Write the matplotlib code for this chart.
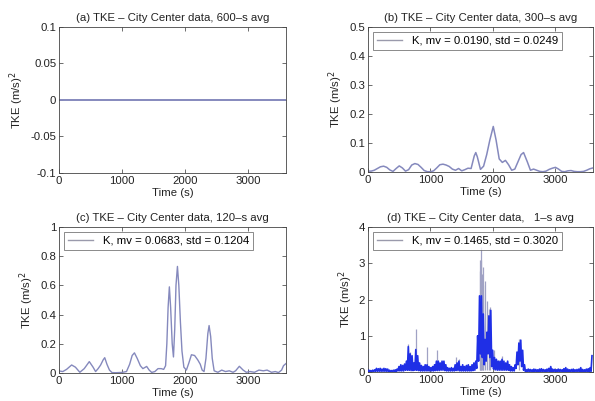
import numpy as np
import matplotlib
matplotlib.use("Agg")
import matplotlib.pyplot as plt

plt.rcParams['font.family'] = ['Liberation Sans', 'DejaVu Sans']

# ---------------- data ----------------
titles = ["(a) TKE \u2013 City Center data, 600\u2013s avg",
          "(b) TKE \u2013 City Center data, 300\u2013s avg",
          "(c) TKE \u2013 City Center data, 120\u2013s avg",
          "(d) TKE \u2013 City Center data,   1\u2013s avg"]
legend_labels = [None,
                 "K, mv = 0.0190, std = 0.0249",
                 "K, mv = 0.0683, std = 0.1204",
                 "K, mv = 0.1465, std = 0.3020"]

# (a) 600-s average
a_t = [0, 600, 1200, 1800, 2400, 3000, 3600]
a_v = [0, 0, 0, 0, 0, 0, 0]

# (b) 300-s average
b_t = [0, 50, 100, 150, 200, 250, 300, 350, 400, 450, 500, 550, 600, 650, 700, 750,
       800, 850, 900, 950, 1000, 1050, 1100, 1150, 1200, 1250, 1300, 1350, 1400,
       1450, 1500, 1550, 1600, 1650, 1700, 1725, 1750, 1800, 1850, 1900, 1950, 2005,
       2050, 2100, 2150, 2200, 2250, 2300, 2350, 2400, 2450, 2490, 2550, 2600, 2650,
       2700, 2750, 2800, 2850, 2900, 2950, 3000, 3050, 3100, 3150, 3200, 3250, 3300,
       3350, 3400, 3450, 3500, 3550, 3600]
b_v = [0.003, 0.003, 0.006, 0.012, 0.018, 0.020, 0.016, 0.007, 0.002, 0.012, 0.021,
       0.014, 0.003, 0.008, 0.024, 0.029, 0.026, 0.016, 0.005, 0.001, 0.001, 0.004,
       0.014, 0.025, 0.027, 0.024, 0.019, 0.010, 0.006, 0.012, 0.004, 0.008, 0.013,
       0.012, 0.055, 0.067, 0.052, 0.009, 0.020, 0.060, 0.110, 0.157, 0.110, 0.045,
       0.033, 0.040, 0.025, 0.006, 0.010, 0.035, 0.060, 0.067, 0.035, 0.006, 0.010,
       0.006, 0.002, 0.001, 0.003, 0.009, 0.013, 0.016, 0.010, 0.002, 0.001, 0.004,
       0.005, 0.002, 0.001, 0.001, 0.002, 0.006, 0.011, 0.014]

# (c) 120-s average
c_t = [0, 60, 120, 200, 260, 330, 400, 480, 540, 580, 620, 660, 700, 725, 760, 800,
       840, 900, 1000, 1070, 1120, 1160, 1196, 1240, 1290, 1330, 1390, 1430, 1470,
       1520, 1570, 1620, 1660, 1690, 1710, 1730, 1750, 1770, 1795, 1815, 1835, 1855,
       1878, 1900, 1925, 1950, 1980, 2020, 2060, 2100, 2150, 2200, 2240, 2270, 2300,
       2330, 2360, 2380, 2405, 2430, 2460, 2520, 2580, 2640, 2700, 2760, 2800, 2860,
       2920, 2970, 3030, 3100, 3170, 3240, 3300, 3370, 3430, 3480, 3530, 3560, 3600]
c_v = [0.014, 0.010, 0.025, 0.055, 0.040, 0.005, 0.030, 0.078, 0.040, 0.010, 0.030,
       0.055, 0.090, 0.105, 0.060, 0.020, 0.003, 0.002, 0.004, 0.010, 0.060, 0.120,
       0.138, 0.100, 0.050, 0.030, 0.045, 0.020, 0.004, 0.010, 0.030, 0.030, 0.025,
       0.050, 0.200, 0.450, 0.590, 0.450, 0.200, 0.110, 0.300, 0.600, 0.730, 0.600,
       0.350, 0.150, 0.040, 0.020, 0.070, 0.125, 0.120, 0.090, 0.060, 0.020, 0.010,
       0.100, 0.270, 0.325, 0.250, 0.100, 0.015, 0.005, 0.020, 0.010, 0.015, 0.005,
       0.015, 0.046, 0.020, 0.005, 0.010, 0.005, 0.020, 0.015, 0.020, 0.005, 0.010,
       0.003, 0.020, 0.050, 0.065]

# (d) 1-s data, summarised per 30-s bin: lower and upper edge of the dense trace
d_bin = 30
d_low = [0.01, 0.01, 0.01, 0.01, 0.02, 0.02, 0.02, 0.02, 0.02, 0.02, 0.02,
         0.01, 0.01, 0.01, 0.01, 0.01, 0.03, 0.03, 0.03, 0.03, 0.05, 0.05,
         0.05, 0.04, 0.04, 0.05, 0.05, 0.04, 0.03, 0.03, 0.03, 0.03, 0.03,
         0.03, 0.03, 0.03, 0.04, 0.04, 0.04, 0.05, 0.05, 0.04, 0.03, 0.03,
         0.03, 0.03, 0.03, 0.04, 0.04, 0.03, 0.03, 0.03, 0.03, 0.03, 0.03,
         0.03, 0.04, 0.05, 0.10, 0.30, 0.50, 0.40, 0.20, 0.30, 0.50, 0.40,
         0.15, 0.08, 0.06, 0.05, 0.05, 0.05, 0.05, 0.05, 0.05, 0.05, 0.03,
         0.03, 0.03, 0.10, 0.20, 0.30, 0.15, 0.05, 0.01, 0.01, 0.01, 0.01,
         0.01, 0.01, 0.01, 0.01, 0.01, 0.01, 0.01, 0.01, 0.01, 0.01, 0.01,
         0.01, 0.01, 0.01, 0.01, 0.01, 0.01, 0.01, 0.01, 0.01, 0.01, 0.01,
         0.01, 0.01, 0.01, 0.01, 0.01, 0.01, 0.01, 0.01, 0.01, 0.02]
d_high = [0.05, 0.04, 0.05, 0.06, 0.10, 0.09, 0.10, 0.08, 0.10, 0.09, 0.08,
          0.05, 0.04, 0.05, 0.06, 0.08, 0.15, 0.20, 0.18, 0.22, 0.30, 0.70,
          0.50, 0.45, 0.25, 0.62, 0.45, 0.25, 0.18, 0.15, 0.20, 0.20, 0.15,
          0.12, 0.15, 0.20, 0.30, 0.30, 0.25, 0.30, 0.30, 0.20, 0.12, 0.10,
          0.12, 0.10, 0.20, 0.25, 0.30, 0.15, 0.20, 0.15, 0.18, 0.20, 0.15,
          0.20, 0.25, 0.30, 1.00, 2.10, 2.10, 1.60, 0.90, 1.10, 1.55, 1.70,
          0.60, 0.40, 0.35, 0.30, 0.30, 0.35, 0.30, 0.25, 0.30, 0.20, 0.15,
          0.12, 0.20, 0.55, 0.80, 0.88, 0.60, 0.20, 0.06, 0.08, 0.07, 0.06,
          0.08, 0.07, 0.06, 0.08, 0.09, 0.07, 0.06, 0.08, 0.10, 0.15, 0.08,
          0.07, 0.06, 0.08, 0.07, 0.06, 0.09, 0.12, 0.08, 0.06, 0.07, 0.08,
          0.06, 0.07, 0.08, 0.12, 0.07, 0.06, 0.08, 0.09, 0.12, 0.45]
# isolated 1-s spikes that rise above the dense trace
spk_t = [634, 667, 774, 946, 1108, 1403, 1457, 1785, 1795, 1806, 1815, 1825, 1833,
         1845, 1870, 1900, 1940, 1955, 2020, 2150, 2420]
spk_v = [0.76, 0.56, 1.18, 0.70, 0.60, 0.42, 0.35, 2.80, 3.10, 3.45, 3.10, 2.70,
         2.90, 2.40, 2.50, 1.95, 1.75, 1.80, 0.60, 0.45, 0.90]

ylims = [(-0.1, 0.1), (0, 0.5), (0, 1), (0, 4)]
yticks = [[-0.1, -0.05, 0, 0.05, 0.1],
          [0, 0.1, 0.2, 0.3, 0.4, 0.5],
          [0, 0.2, 0.4, 0.6, 0.8, 1],
          [0, 1, 2, 3, 4]]
xticks = [0, 1000, 2000, 3000]

# ---------------- figure ----------------
fig = plt.figure(figsize=(5.95, 4.01), dpi=100)
pos = [[0.0992, 0.5686, 0.3815, 0.3641],
       [0.6185, 0.5711, 0.3780, 0.3616],
       [0.0992, 0.0698, 0.3815, 0.3641],
       [0.6185, 0.0723, 0.3780, 0.3616]]
axes = [fig.add_axes(p) for p in pos]

line_col = '#8589bd'
band_col = '#1f2fe6'
spike_col = '#a0a2c4'
fs = 8.2

axes[0].plot(a_t, a_v, color=line_col, lw=1.4)
axes[1].plot(b_t, b_v, color=line_col, lw=1.1, label=legend_labels[1])
axes[2].plot(c_t, c_v, color=line_col, lw=1.0, label=legend_labels[2])

# (d): dense trace through bin lower/upper values, then isolated spikes
d_start = np.arange(len(d_low)) * d_bin
dx = np.column_stack([d_start, d_start + d_bin / 2]).ravel()
dy = np.column_stack([d_low, d_high]).ravel()
axes[3].vlines(spk_t, 0.05, spk_v, color=spike_col, lw=0.9, zorder=2)
axes[3].plot(dx, dy, color=band_col, lw=1.2, label=legend_labels[3], zorder=3)

for i, ax in enumerate(axes):
    ax.set_xlim(0, 3600)
    ax.set_ylim(*ylims[i])
    ax.set_xticks(xticks)
    ax.set_yticks(yticks[i])
    ax.set_yticklabels(['%g' % v for v in yticks[i]])
    ax.tick_params(direction='in', length=3, width=0.5, top=True, right=True,
                   labelsize=fs, pad=2, colors='#333333', labelcolor='#222222')
    for s in ax.spines.values():
        s.set_linewidth(0.6)
        s.set_color('#444444')
    ax.set_title(titles[i], fontsize=fs, pad=4, color='#222222')
    ax.set_xlabel('Time (s)', fontsize=fs, labelpad=1.5, color='#222222')
    ax.set_ylabel('TKE (m/s)$^2$', fontsize=fs, labelpad=3, color='#222222')
    if legend_labels[i]:
        leg = ax.legend(loc='upper left', fontsize=fs, frameon=True, fancybox=False,
                        edgecolor='#555555', handlelength=2.2, borderpad=0.35,
                        borderaxespad=0.4, handletextpad=0.9)
        leg.get_frame().set_linewidth(0.6)
        leg.set_zorder(5)
        for ln in leg.get_lines():
            ln.set_color('#9a9aac')
            ln.set_linewidth(1.0)

fig.savefig('out.png', dpi=100)
